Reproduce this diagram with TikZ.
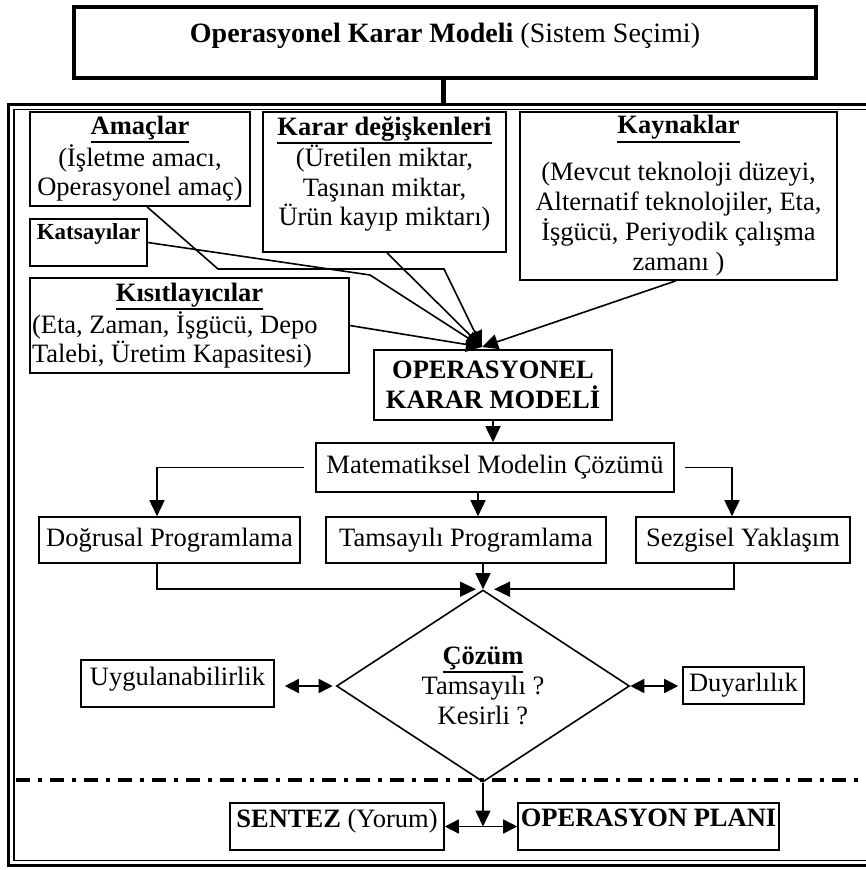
\documentclass[tikz,border=0pt]{standalone}
\usepackage{fontspec}
\setmainfont{Liberation Serif}
\usepackage{tikz}
\usetikzlibrary{shapes.geometric}
\usetikzlibrary{arrows.meta}

\newcommand{\hd}[1]{\leavevmode\vtop{\hbox{\textbf{#1}}\kern1pt\hrule height 2.2pt}}

\tikzset{
  box/.style={draw, line width=1.6pt, inner sep=2pt, align=center, font=\fontsize{26.5}{29.5}\selectfont},
  arr/.style={line width=1.6pt, -{Triangle[length=16pt,width=15pt]}},
  dblarr/.style={line width=1.6pt, {Triangle[length=14pt,width=14pt]}-{Triangle[length=14pt,width=14pt]}},
}

\begin{document}
\begin{tikzpicture}[x=1pt,y=-1pt]
        \useasboundingbox (0,0) rectangle (866,870);
        \clip (0,0) rectangle (866,870);

        % double frame, open to the right
        \draw[line width=3pt] (8.5,104) rectangle (900,865.5);
        \draw[line width=1.2pt] (14,109.5) rectangle (900,860.5);

        \node[box, line width=4pt, minimum width=742pt, minimum height=71pt, font=\fontsize{28}{32}\selectfont, text depth=19pt] (title) at (445,42.5) {\textbf{Operasyonel Karar Modeli} (Sistem Seçimi)};
        \coordinate (ftop) at (443,104);
        \draw[line width=5pt] (title.south -| ftop) -- (ftop);

        % inputs of the model
        \node[box, minimum width=220pt, minimum height=94pt] (amac) at (140,159) {\hd{Amaçlar}\\(İşletme amacı,\\Operasyonel amaç)};
        \node[box, minimum width=243pt, minimum height=140pt, text depth=22pt] (karar) at (384.5,182) {\hd{Karar değişkenleri}\\(Üretilen miktar,\\Taşınan miktar,\\Ürün kayıp miktarı)};
        \node[box, minimum width=317pt, minimum height=168pt, font=\fontsize{26.5}{30}\selectfont] (kaynak) at (678.5,196) {\hd{Kaynaklar}\\[17pt](Mevcut teknoloji düzeyi,\\Alternatif teknolojiler, Eta,\\İşgücü, Periyodik çalışma\\zamanı )};
        \node[box, minimum width=117pt, minimum height=47pt, font=\fontsize{23}{26}\selectfont, text depth=22pt] (kats) at (88.5,242.5) {\textbf{Katsayılar}};
        \node[box, align=left, minimum height=95pt] (kisit) at (189.5,325.5) {\hbox to 315pt{\hfil\hd{Kısıtlayıcılar}\hfil}\\(Eta, Zaman, İşgücü, Depo\\Talebi, Üretim Kapasitesi)};

        \node[box, line width=2.4pt, minimum width=238pt, minimum height=70pt] (model) at (493,385) {\textbf{OPERASYONEL}\\\textbf{KARAR MODELİ}};

        \coordinate (tip) at (482,347);
        \coordinate (a1) at (218,269);
        \coordinate (a2) at (444,269);
        \coordinate (k1) at (370,275);
        \draw[arr] ([xshift=7pt]amac.south) -- (a1) -- (a2) -- (tip);
        \draw[arr] (kats.east) -- (k1) -- (tip);
        \draw[arr] ([xshift=2.5pt]karar.south) -- (tip);
        \draw[arr] (kisit.east) -- (tip);
        \draw[arr] ([xshift=-2.5pt]kaynak.south) -- (tip);

        % solution methods
        \node[box, minimum width=358pt, minimum height=49pt] (mat) at (495,467.5) {Matematiksel Modelin Çözümü};
        \node[box, minimum width=261pt, minimum height=46pt] (dog) at (169.5,540) {Doğrusal Programlama};
        \node[box, minimum width=280pt, minimum height=46pt] (tam) at (466,540) {Tamsayılı Programlama};
        \node[box, minimum width=214pt, minimum height=46pt] (sez) at (743,540) {Sezgisel Yaklaşım};

        \draw[arr] (model.south) -- (model.south |- mat.north);
        \draw[arr, shorten <=11pt] (mat.west) -| ([xshift=-12.5pt]dog.north);
        \draw[arr, shorten <=10pt] (mat.east) -| ([xshift=-11pt]sez.north);
        \draw[arr] ([xshift=12pt]tam.north |- mat.south) -- ([xshift=12pt]tam.north);

        \node[box, diamond, aspect=1.53, inner sep=0pt, minimum width=293pt, minimum height=192pt, font=\fontsize{26.5}{30}\selectfont] (cozum) at (483,686) {\hd{Çözüm}\\Tamsayılı ?\\Kesirli ?};
        \draw[arr] ([xshift=-12.5pt]dog.south) |- ([xshift=-7pt]cozum.north);
        \draw[arr] ([xshift=-9pt]sez.south) |- ([xshift=11pt]cozum.north);
        \draw[arr] (tam.south -| cozum.north) -- (cozum.north);

        \node[box, minimum width=193pt, minimum height=47pt, text depth=15pt] (uyg) at (177.5,683.5) {Uygulanabilirlik};
        \node[box, minimum width=121pt, minimum height=37pt] (duy) at (743.5,685.5) {Duyarlılık};
        \draw[dblarr, shorten <=10pt, shorten >=3pt] (uyg.east |- cozum.west) -- (cozum.west);
        \draw[dblarr, shorten >=4pt] (cozum.east) -- (cozum.east -| duy.west);

        \draw[line width=3.5pt, dash pattern=on 14pt off 8pt on 4pt off 8pt] (16,780) -- (866,780);

        % synthesis
        \node[box, minimum width=214pt, minimum height=47pt, text depth=17pt] (sentez) at (337,826.5) {\textbf{SENTEZ} (Yorum)};
        \node[box, minimum width=261pt, minimum height=47pt, text depth=17pt] (plan) at (648.5,826.5) {\textbf{OPERASYON PLANI}};
        \draw[arr] (cozum.south) -- (cozum.south |- sentez.east);
        \draw[dblarr] (sentez.east) -- (plan.west);
    \end{tikzpicture}
\end{document}
